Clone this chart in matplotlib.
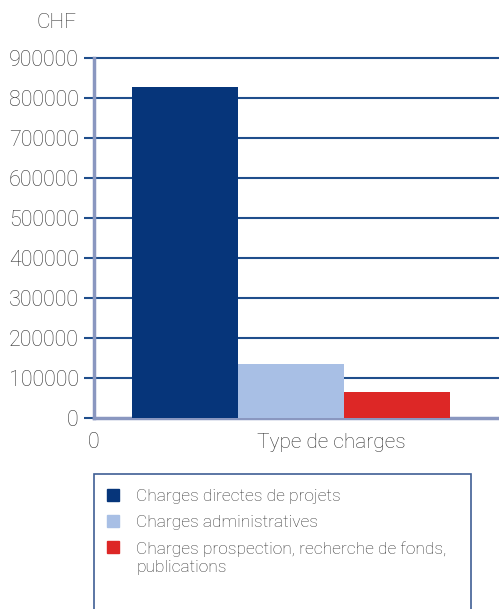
import matplotlib.pyplot as plt
from matplotlib.patches import Rectangle

# data
categories = ['Charges directes de projets', 'Charges administratives',
              'Charges prospection, recherche de fonds,\npublications']
values = [828000, 135000, 65000]
colors = ['#06357a', '#a8bfe5', '#dd2726']
yticks = [0, 100000, 200000, 300000, 400000, 500000, 600000, 700000, 800000, 900000]

plt.rcParams['font.family'] = ['Roboto', 'DejaVu Sans']
plt.rcParams['font.weight'] = 'light'
text_col = '#333333'
grid_col = '#1f4e8c'
spine_col = '#8a97c0'

W, H = 499, 609
fig = plt.figure(figsize=(W / 100, H / 100), dpi=100)
ax = fig.add_axes([94 / W, 1 - 418 / H, (W - 94) / W, (418 - 58) / H])

xs = [0, 1, 2]
ax.bar(xs, values, width=1.0, color=colors, zorder=3)
x0 = -0.5 - 38 / 106
ax.set_xlim(x0, 2.5 + 49 / 106)
ax.set_ylim(0, 900000)
ax.set_yticks(yticks)
ax.set_yticklabels([str(v) for v in yticks], fontsize=15.5, color=text_col)
ax.tick_params(axis='y', length=7, width=1.5, color=grid_col, pad=4)
ax.set_xticks([])
for v in yticks[1:]:
    ax.axhline(v, color=grid_col, lw=1.5, zorder=1, clip_on=False)

for s in ['top', 'right']:
    ax.spines[s].set_visible(False)
ax.spines['left'].set_color(spine_col)
ax.spines['left'].set_linewidth(2.5)
ax.spines['bottom'].set_color(spine_col)
ax.spines['bottom'].set_linewidth(2.5)

fig.text(88 / W, 1 - 443 / H, '0', fontsize=15.5, color=text_col, ha='left', va='center')
fig.text(331 / W, 1 - 443 / H, 'Type de charges', fontsize=15, color=text_col,
         ha='center', va='center')
fig.text(57 / W, 1 - 22 / H, 'CHF', fontsize=15, color=text_col, ha='center', va='center')

# legend box, runs off the bottom edge
fig.add_artist(Rectangle((94 / W, -0.05), (471 - 94) / W, 1 - 474 / H + 0.05,
                         transform=fig.transFigure, fill=False,
                         edgecolor='#3f5f95', lw=1.2))
# legend entries drawn by hand so the square sits on the first text line
for i, (lab, c) in enumerate(zip(categories, colors)):
    yc = 495 + 26 * i
    fig.add_artist(Rectangle((107 / W, 1 - (yc + 6) / H), 12 / W, 12 / H,
                             transform=fig.transFigure, color=c))
    fig.text(136 / W, 1 - (yc - 6) / H, lab, fontsize=12.5, color=text_col,
             ha='left', va='top', linespacing=1.3)

fig.savefig('out.png', dpi=100)
